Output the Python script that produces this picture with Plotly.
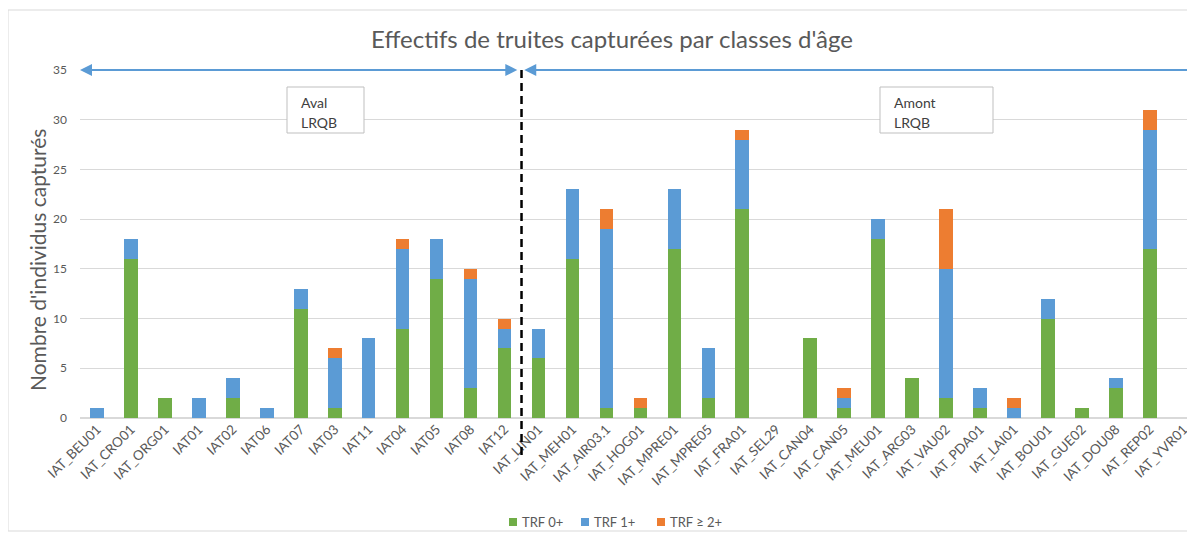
import plotly.graph_objects as go

categories = ["IAT_BEU01", "IAT_CRO01", "IAT_ORG01", "IAT01", "IAT02", "IAT06", "IAT07",
              "IAT03", "IAT11", "IAT04", "IAT05", "IAT08", "IAT12", "IAT_LIN01", "IAT_MEH01",
              "IAT_AIR03.1", "IAT_HOG01", "IAT_MPRE01", "IAT_MPRE05", "IAT_FRA01", "IAT_SEL29",
              "IAT_CAN04", "IAT_CAN05", "IAT_MEU01", "IAT_ARG03", "IAT_VAU02", "IAT_PDA01",
              "IAT_LAI01", "IAT_BOU01", "IAT_GUE02", "IAT_DOU08", "IAT_REP02", "IAT_YVR01"]
trf0 = [0, 16, 2, 0, 2, 0, 11, 1, 0, 9, 14, 3, 7, 6, 16, 1, 1, 17, 2, 21, 0, 8, 1, 18, 4, 2, 1, 0, 10, 1, 3, 17, 0]
trf1 = [1, 2, 0, 2, 2, 1, 2, 5, 8, 8, 4, 11, 2, 3, 7, 18, 0, 6, 5, 7, 0, 0, 1, 2, 0, 13, 2, 1, 2, 0, 1, 12, 0]
trf2 = [0, 0, 0, 0, 0, 0, 0, 1, 0, 1, 0, 1, 1, 0, 0, 2, 1, 0, 0, 1, 0, 0, 1, 0, 0, 6, 0, 1, 0, 0, 0, 2, 0]
series_names = ["TRF 0+", "TRF 1+", "TRF \u2265 2+"]
colors = ["#70AD47", "#5B9BD5", "#ED7D31"]

OFF = 8  # page body margin
W, H = 1195 - OFF, 535 - OFF
L, R, T, B = 80 - OFF, 0, 70 - OFF, 117
pw, ph = W - L - R, H - T - B
xmin = -0.5
xmax = 32.33
FONT = "Lato, 'Open Sans', sans-serif"
GREY = "#595959"


def px_to_paper_x(px):
    return (px - OFF - L) / pw


def px_to_paper_y(py):
    return (H - B - (py - OFF)) / ph


fig = go.Figure()
for name, vals, col in zip(series_names, [trf0, trf1, trf2], colors):
    fig.add_trace(go.Bar(x=list(range(len(categories))), y=vals, name=name,
                         marker=dict(color=col, line=dict(width=0)), showlegend=False))

fig.update_layout(
    width=W, height=H, barmode="stack", bargap=0.6,
    margin=dict(l=L, r=R, t=T, b=B, autoexpand=False),
    paper_bgcolor="white", plot_bgcolor="white",
    font=dict(family=FONT, color=GREY),
    title=dict(text="Effectifs de truites capturées par classes d'âge",
               x=px_to_paper_x(612), xref="paper", xanchor="center",
               y=1 - (40 - OFF) / H, yanchor="middle", font=dict(size=24, color=GREY, family=FONT)),
    xaxis=dict(range=[xmin, xmax], tickmode="array", tickvals=list(range(len(categories))),
               ticktext=categories, tickangle=-45, tickfont=dict(size=13.5, color=GREY),
               showgrid=False, zeroline=False, showline=False),
    yaxis=dict(range=[0, 35], dtick=5, tickfont=dict(size=12, color=GREY),
               gridcolor="#D9D9D9", gridwidth=1, zeroline=True, zerolinecolor="#D9D9D9",
               showline=False, ticklabelstandoff=12),
)

# y axis title (placed like the original, slightly below plot centre)
fig.add_annotation(x=px_to_paper_x(38), y=px_to_paper_y(260), xref="paper", yref="paper",
                   xanchor="center", yanchor="middle", textangle=-90,
                   text="Nombre d'individus capturés", showarrow=False,
                   font=dict(size=21, color=GREY))

# chart border
fig.add_shape(type="rect", xref="paper", yref="paper",
              x0=px_to_paper_x(8), x1=px_to_paper_x(1210),
              y0=px_to_paper_y(531), y1=px_to_paper_y(10),
              line=dict(color="#D9D9D9", width=1), layer="below")

# dashed divider
fig.add_shape(type="line", xref="x", yref="paper", x0=12.5, x1=12.5,
              y0=px_to_paper_y(455), y1=1.0,
              line=dict(color="black", width=2.5, dash="8px,5px"))

# arrows
fig.add_annotation(x=-0.5, y=35, ax=12.42, ay=35, xref="x", yref="y", axref="x", ayref="y",
                   showarrow=True, arrowhead=2, startarrowhead=2, arrowside="end+start",
                   arrowwidth=2, arrowsize=1.2, startarrowsize=1.2, arrowcolor="#5B9BD5", text="")
fig.add_annotation(x=12.58, y=35, ax=xmax, ay=35, xref="x", yref="y", axref="x", ayref="y",
                   showarrow=True, arrowhead=2, arrowwidth=2, arrowsize=1.2,
                   arrowcolor="#5B9BD5", text="")

# text boxes
boxes = [((287, 364, 87, 133), 299, ["Aval", "LRQB"]),
         ((880, 993, 87, 133), 892, ["Amont", "LRQB"])]
for (bx0, bx1, by0, by1), tx, lines in boxes:
    fig.add_shape(type="rect", xref="paper", yref="paper",
                  x0=px_to_paper_x(bx0), x1=px_to_paper_x(bx1),
                  y0=px_to_paper_y(by1), y1=px_to_paper_y(by0),
                  line=dict(color="#BFBFBF", width=1), fillcolor="white", layer="above")
    for i, line in enumerate(lines):
        fig.add_annotation(x=px_to_paper_x(tx), y=px_to_paper_y(102 + 21 * i),
                           xref="paper", yref="paper", xanchor="left", yanchor="middle",
                           text=line, showarrow=False, font=dict(size=14, color="#404040"))

# legend (custom, compact like the original)
legend_pos = [(509, 520), (581, 592), (657, 668)]
ly = 522
for (sx, tx), name, col in zip(legend_pos, series_names, colors):
    fig.add_shape(type="rect", xref="paper", yref="paper",
                  x0=px_to_paper_x(sx), x1=px_to_paper_x(sx + 8),
                  y0=px_to_paper_y(ly + 4), y1=px_to_paper_y(ly - 4),
                  line=dict(width=0), fillcolor=col)
    fig.add_annotation(x=px_to_paper_x(tx), y=px_to_paper_y(ly), xref="paper", yref="paper",
                       xanchor="left", yanchor="middle", text=name, showarrow=False,
                       font=dict(size=13, color=GREY))

fig.write_html("out.html")
